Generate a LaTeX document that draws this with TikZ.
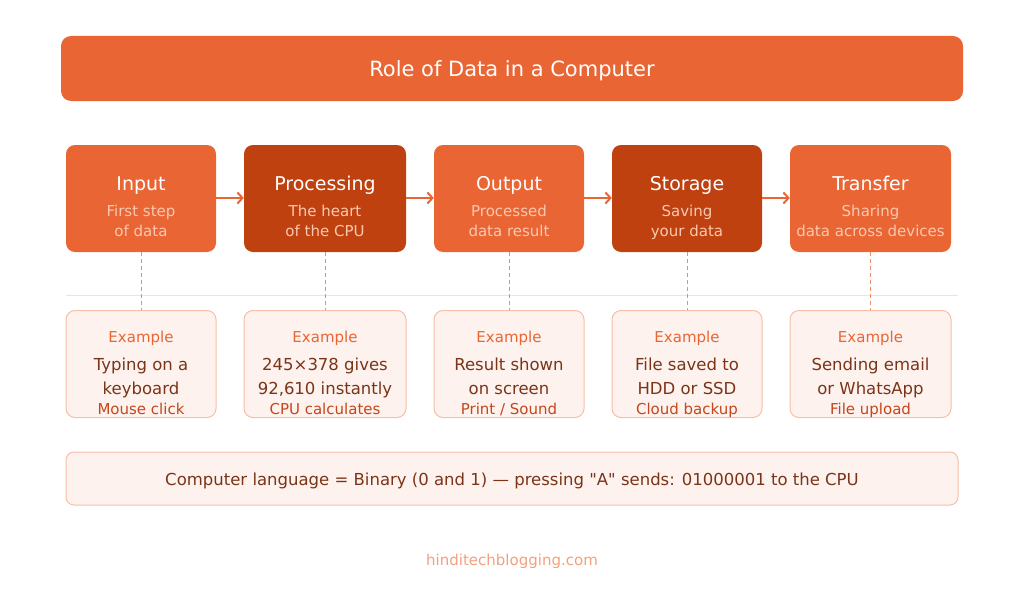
\documentclass[tikz,border=0pt]{standalone}
\usepackage{fontspec}
\setmainfont{DejaVu Sans}
\usetikzlibrary{arrows.meta,calc}
\definecolor{MainClr}{RGB}{233,101,52}
\definecolor{DarkClr}{RGB}{192,65,16}
\definecolor{SubClr}{RGB}{250,200,176}
\definecolor{CardClr}{RGB}{254,242,238}
\definecolor{CardLineClr}{RGB}{247,190,168}
\definecolor{TextClr}{RGB}{122,52,24}
\definecolor{NoteClr}{RGB}{196,70,26}
\definecolor{WebClr}{RGB}{243,160,126}
\definecolor{RuleClr}{RGB}{251,222,210}
\definecolor{DashClr}{RGB}{240,140,105}

\begin{document}
\begin{tikzpicture}[x=1pt,y=-1pt,
  stage/.style={rectangle,rounded corners=9pt,fill=MainClr,minimum width=150pt,minimum height=107pt,inner sep=0pt},
  darkstage/.style={stage,fill=DarkClr},
  stagetitle/.style={anchor=base,text=white,font=\fontsize{19}{23}\selectfont},
  stagesub/.style={anchor=base,text=SubClr,align=center,font=\fontsize{15}{20}\selectfont},
  card/.style={rectangle,rounded corners=9pt,fill=CardClr,draw=CardLineClr,line width=1pt,minimum width=150pt,minimum height=107pt,inner sep=0pt},
  cardlabel/.style={anchor=base,text=MainClr,font=\fontsize{15}{18}\selectfont},
  cardbody/.style={anchor=base,text=TextClr,align=center,font=\fontsize{16.5}{24}\selectfont},
  cardextra/.style={anchor=base,text=NoteClr,font=\fontsize{15}{18}\selectfont},
  flow/.style={-{Straight Barb[length=5pt,width=11pt]},draw=MainClr,line width=2pt},
  link/.style={draw=DashClr,line width=1pt,dash pattern=on 4pt off 3pt}]
\useasboundingbox (0,0) rectangle (1024,602);

% title bar
\node[rectangle,rounded corners=10pt,fill=MainClr,minimum width=902pt,minimum height=65pt] (bar) at (512,68.5) {};
\node[anchor=base,text=white,font=\fontsize{21}{25}\selectfont] (title) at (512,76.5) {Role of Data in a Computer};

% stages
\node[stage] (input) at (141,198.5) {};
\node[darkstage,minimum width=162pt] (proc) at (325,198.5) {};
\node[stage] (output) at (509,198.5) {};
\node[darkstage] (store) at (687,198.5) {};
\node[stage,minimum width=161pt] (trans) at (870.5,198.5) {};

% (multi-line nodes sit on their last line)
\node[stagetitle] (inputT) at (141,190) {Input};
\node[stagesub] (inputS) at (141,236.5) {First step\\of data};
\node[stagetitle] (procT) at (325,190) {Processing};
\node[stagesub] (procS) at (325,236.5) {The heart\\of the CPU};
\node[stagetitle] (outputT) at (509,190) {Output};
\node[stagesub] (outputS) at (509,236.5) {Processed\\data result};
\node[stagetitle] (storeT) at (687,190) {Storage};
\node[stagesub] (storeS) at (687,236.5) {Saving\\your data};
\node[stagetitle] (transT) at (870.5,190) {Transfer};
\node[stagesub] (transS) at (870.5,236.5) {Sharing\\data across devices};

\draw[flow] (input.east |- 0,198) -- (proc.west |- 0,198);
\draw[flow] (proc.east |- 0,198) -- (output.west |- 0,198);
\draw[flow] (output.east |- 0,198) -- (store.west |- 0,198);
\draw[flow] (store.east |- 0,198) -- (trans.west |- 0,198);

% divider
\coordinate (ruleL) at (66,295);
\coordinate (ruleR) at (958,295);
\draw[RuleClr,line width=1pt] (ruleL) -- (ruleR);

% example cards
\node[card] (inputC) at (141,364) {};
\node[card,minimum width=162pt] (procC) at (325,364) {};
\node[card] (outputC) at (509,364) {};
\node[card] (storeC) at (687,364) {};
\node[card,minimum width=161pt] (transC) at (870.5,364) {};

\draw[link] (input.south) -- (inputC.north);
\draw[link] (proc.south) -- (procC.north);
\draw[link] (output.south) -- (outputC.north);
\draw[link] (store.south) -- (storeC.north);
\draw[link] (trans.south) -- (transC.north);

\node[cardlabel] (inputL) at (141,342.5) {Example};
\node[cardbody] (inputB) at (141,394) {Typing on a\\keyboard};
\node[cardextra] (inputX) at (141,414) {Mouse click};
\node[cardlabel] (procL) at (325,342.5) {Example};
\node[cardbody] (procB) at (325,394) {245×378 gives\\92,610 instantly};
\node[cardextra] (procX) at (325,414) {CPU calculates};
\node[cardlabel] (outputL) at (509,342.5) {Example};
\node[cardbody] (outputB) at (509,394) {Result shown\\on screen};
\node[cardextra] (outputX) at (509,414) {Print / Sound};
\node[cardlabel] (storeL) at (687,342.5) {Example};
\node[cardbody] (storeB) at (687,394) {File saved to\\HDD or SSD};
\node[cardextra] (storeX) at (687,414) {Cloud backup};
\node[cardlabel] (transL) at (870.5,342.5) {Example};
\node[cardbody] (transB) at (870.5,394) {Sending email\\or WhatsApp};
\node[cardextra] (transX) at (870.5,414) {File upload};

% binary note
\node[card,rounded corners=8pt,minimum width=892pt,minimum height=53pt] (note) at (512,478.5) {};
\node[anchor=base,text=TextClr,font=\fontsize{16.5}{20}\selectfont] (noteT) at (512,485) {Computer language = Binary (0 and 1) — pressing \textquotedbl A\textquotedbl{} sends: 01000001 to the CPU};

% footer
\node[anchor=base,text=WebClr,font=\fontsize{15}{18}\selectfont] (web) at (512,565) {hinditechblogging.com};
\end{tikzpicture}
\end{document}
